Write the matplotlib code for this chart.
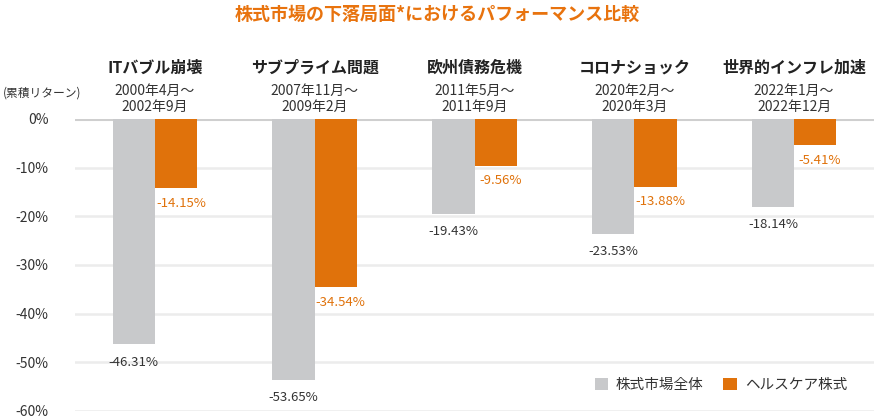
import matplotlib
matplotlib.use("Agg")
import matplotlib.pyplot as plt
import numpy as np

plt.rcParams['font.family'] = ['Noto Sans CJK JP', 'DejaVu Sans']

categories = ["ITバブル崩壊", "サブプライム問題", "欧州債務危機", "コロナショック", "世界的インフレ加速"]
periods = ["2000年4月～\n2002年9月", "2007年11月～\n2009年2月", "2011年5月～\n2011年9月",
           "2020年2月～\n2020年3月", "2022年1月～\n2022年12月"]
market = [-46.31, -53.65, -19.43, -23.53, -18.14]
healthcare = [-14.15, -34.54, -9.56, -13.88, -5.41]
series_names = ["株式市場全体", "ヘルスケア株式"]
yticks = [0, -10, -20, -30, -40, -50, -60]

GRAY = "#c8c9cb"
ORANGE = "#e0720b"
TEXT = "#333333"

W, H = 874, 419
fig = plt.figure(figsize=(W/100, H/100), dpi=100)
ax = fig.add_axes([75/W, 1-411/H, 1-75/W, (411-119)/H])

x = np.arange(len(categories))
w = 0.265
ax.bar(x - w/2, market, width=w, color=GRAY, label=series_names[0], zorder=2)
ax.bar(x + w/2, healthcare, width=w, color=ORANGE, label=series_names[1], zorder=2)

for xi, v in zip(x, market):
    ax.text(xi - w/2, v - 2.3, f"{v:.2f}%", ha="center", va="top", fontsize=9.5, color=TEXT)
for xi, v in zip(x, healthcare):
    ax.text(xi + w/2 + 0.03, v - 1.8, f"{v:.2f}%", ha="center", va="top", fontsize=9.5, color=ORANGE)

ax.set_xlim(-0.5, 4.5)
ax.set_ylim(-60, 0)
ax.set_yticks(yticks)
ax.set_yticklabels([f"{t}%" for t in yticks])
ax.tick_params(axis="y", length=0, pad=19, labelsize=10, labelcolor=TEXT)
ax.set_xticks([])
for t in yticks:
    ax.axhline(t, color="#cfcfcf" if t == 0 else "#ececec", lw=2.2 if t == 0 else 1.8, zorder=1)
for s in ax.spines.values():
    s.set_visible(False)

for xi, c, p in zip(x, categories, periods):
    cx = (75 + (xi + 0.5) * (W - 75) / 5) / W
    fig.text(cx, 1-68/H, c, ha="center", va="center",
             fontsize=11.5, fontweight="bold", color="#222222")
    fig.text(cx, 1-99/H, p, ha="center", va="center",
             fontsize=10, color=TEXT, linespacing=1.12)

fig.text(3/W, 1-93/H, "(累積リターン)", ha="left", va="center", fontsize=8.5, color=TEXT)
fig.text(437/W, 1-14/H, "株式市場の下落局面*におけるパフォーマンス比較", ha="center", va="center",
         fontsize=13, fontweight="bold", color="#e8730e")

leg = fig.legend(loc="center right", bbox_to_anchor=(847/W, 1-385/H), ncol=2, frameon=False,
                 fontsize=10.5, handlelength=0.9, handleheight=0.9, columnspacing=1.35,
                 handletextpad=0.55, borderpad=0, borderaxespad=0)
for t in leg.get_texts():
    t.set_color(TEXT)

fig.savefig("out.png", dpi=100)
